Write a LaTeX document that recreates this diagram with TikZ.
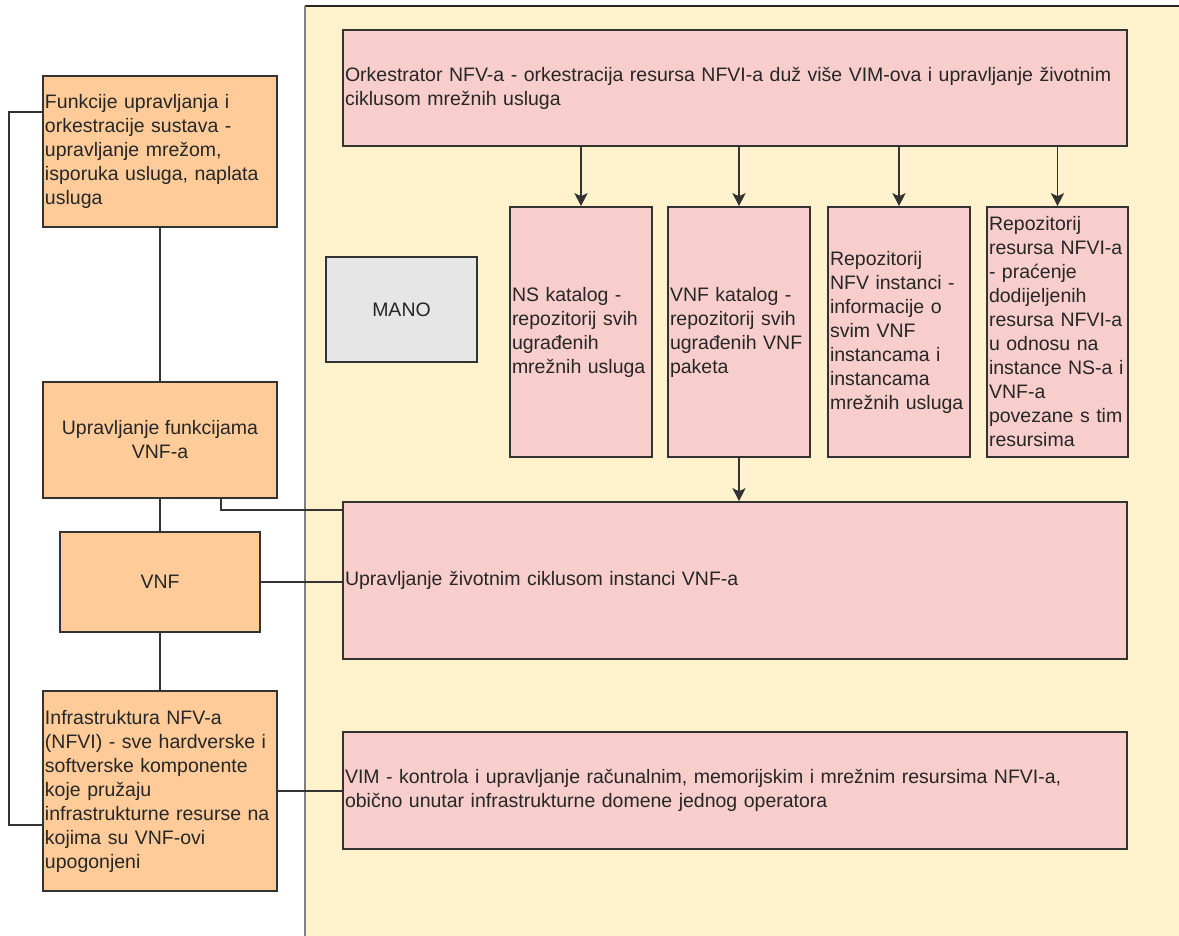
\documentclass[tikz,border=0pt]{standalone}
\usepackage{fontspec}
\setmainfont{Liberation Sans}
\usetikzlibrary{arrows.meta}
\definecolor{orangefill}{HTML}{FFCC99}
\definecolor{pinkfill}{HTML}{F8CECC}
\definecolor{yellowfill}{HTML}{FFF2CC}
\definecolor{manofill}{HTML}{E6E6E6}
\begin{document}
\begin{tikzpicture}[x=1pt,y=-1pt,line width=1.6pt,
  box/.style={draw=black!80,text=black!85,font=\fontsize{19.5}{24}\selectfont,inner sep=2pt},
  lbox/.style={box,align=left},
  cbox/.style={box,align=center},
  orangebox/.style={fill=orangefill},
  pinkbox/.style={fill=pinkfill},
  link/.style={draw=black!80,line width=1.6pt},
  arr/.style={link,-{Stealth[length=13pt,width=13pt,inset=3pt]}}]
  \useasboundingbox (0,0) rectangle (1179,936);
  \fill[yellowfill] (305,6) rectangle (1190,950);
  \draw[black!85] (305,6) -- (1190,6);
  \draw[black!50,line width=2.5pt] (305,6) -- (305,950);

  \node[lbox,orangebox,minimum width=234,minimum height=151,text width=230] (fun) at (160,151.5)
    {Funkcije upravljanja i\\orkestracije sustava -\\upravljanje mrežom,\\isporuka usluga, naplata\\usluga};
  \node[cbox,orangebox,minimum width=234,minimum height=116] (upr) at (160,440)
    {Upravljanje funkcijama\\VNF-a};
  \node[cbox,orangebox,minimum width=200,minimum height=100] (vnf) at (160,582) {VNF};
  \node[lbox,orangebox,minimum width=234,minimum height=200,text width=230] (infra) at (160,791)
    {Infrastruktura NFV-a\\(NFVI) - sve hardverske i\\softverske komponente\\koje pružaju\\infrastrukturne resurse na\\kojima su VNF-ovi\\upogonjeni};

  \node[cbox,fill=manofill,minimum width=151,minimum height=105] (mano) at (401.5,309.5) {MANO};
  \node[lbox,pinkbox,minimum width=784,minimum height=116,text width=780] (orch) at (735,88)
    {Orkestrator NFV-a - orkestracija resursa NFVI-a duž više VIM-ova i upravljanje životnim\\ciklusom mrežnih usluga};
  \node[lbox,pinkbox,minimum width=142,minimum height=250,text width=138] (ns) at (581,332)
    {NS katalog -\\repozitorij svih\\ugrađenih\\mrežnih usluga};
  \node[lbox,pinkbox,minimum width=142,minimum height=250,text width=138] (vnfk) at (739,332)
    {VNF katalog -\\repozitorij svih\\ugrađenih VNF\\paketa};
  \node[lbox,pinkbox,minimum width=142,minimum height=250,text width=138] (nfvr) at (899,332)
    {Repozitorij\\NFV instanci -\\informacije o\\svim VNF\\instancama i\\instancama\\mrežnih usluga};
  \node[lbox,pinkbox,minimum width=141,minimum height=250,text width=137] (nfvir) at (1057.5,332)
    {Repozitorij\\resursa NFVI-a\\- praćenje\\dodijeljenih\\resursa NFVI-a\\u odnosu na\\instance NS-a i\\VNF-a\\povezane s tim\\resursima};
  \node[lbox,pinkbox,minimum width=784,minimum height=157,text width=780] (lcm) at (735,580.5)
    {Upravljanje životnim ciklusom instanci VNF-a};
  \node[lbox,pinkbox,minimum width=784,minimum height=117,text width=780] (vim) at (735,790.5)
    {VIM - kontrola i upravljanje računalnim, memorijskim i mrežnim resursima NFVI-a,\\obično unutar infrastrukturne domene jednog operatora};

  \draw[link] (fun.south) -- (upr.north);
  \draw[link] (upr.south) -- (vnf.north);
  \draw[link] (vnf.south) -- (infra.north);
  \draw[link] ([yshift=-37pt]fun.north west) -- ++(-33,0) |- ([yshift=67pt]infra.south west);
  \draw[link] ([xshift=61pt]upr.south) |- ([yshift=-9pt]lcm.north west);
  \draw[link] (vnf.east) -- (vnf.east -| lcm.west);
  \draw[link] (infra.east) -- (infra.east -| vim.west);
  \foreach \b in {ns,vnfk,nfvr,nfvir}
    \draw[arr] (orch.south -| \b.north) -- (\b.north);
  \draw[arr] (vnfk.south) -- (vnfk.south |- lcm.north);
\end{tikzpicture}
\end{document}
